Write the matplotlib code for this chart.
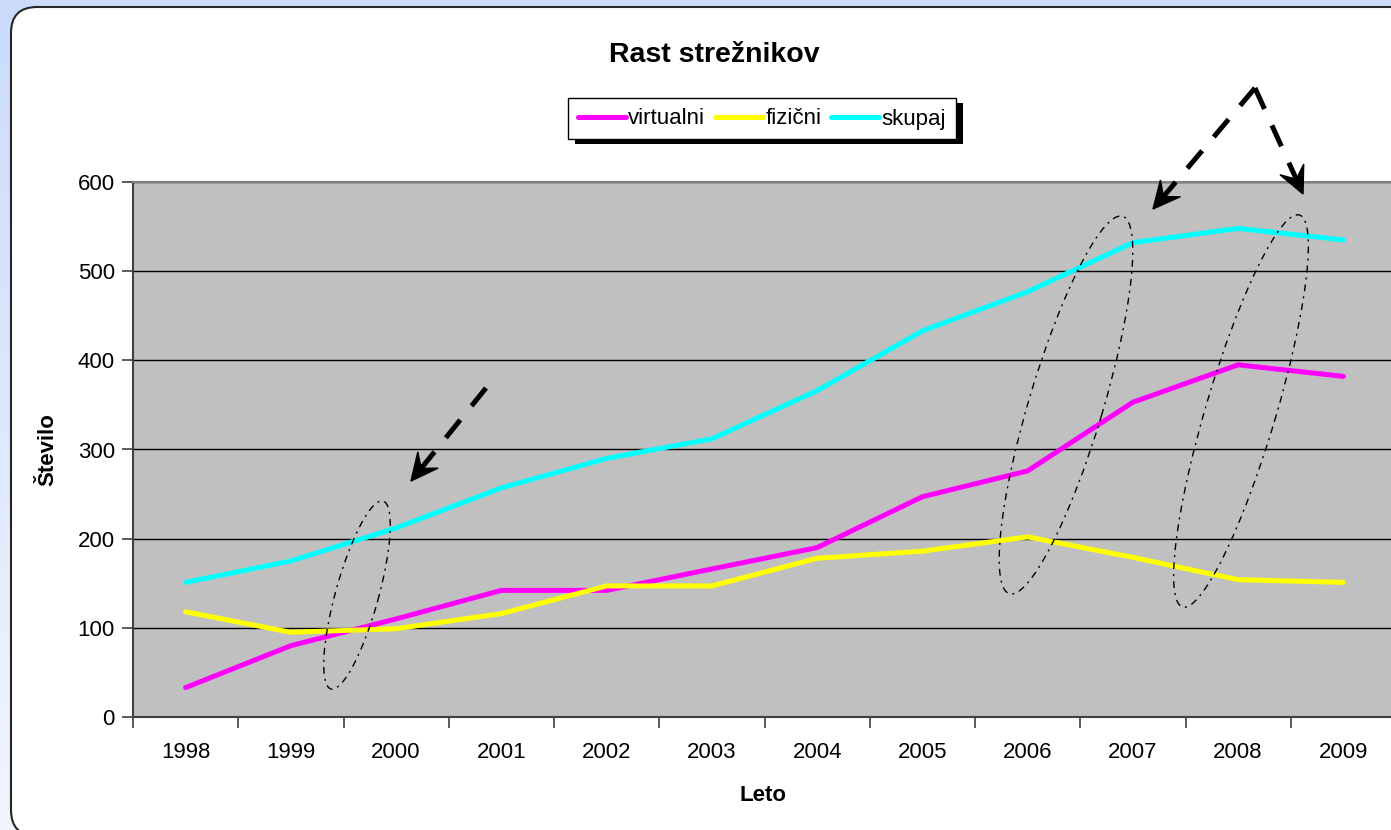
import numpy as np
import matplotlib
matplotlib.use('Agg')
import matplotlib.pyplot as plt
from matplotlib.colors import LinearSegmentedColormap
from matplotlib.patches import Ellipse, FancyBboxPatch, Polygon, Rectangle
from matplotlib.lines import Line2D
from matplotlib.transforms import IdentityTransform

plt.rcParams['font.family'] = ['Liberation Sans', 'DejaVu Sans']

# data
years = ['1998', '1999', '2000', '2001', '2002', '2003',
         '2004', '2005', '2006', '2007', '2008', '2009']
virtualni = [33, 80, 110, 142, 142, 166, 190, 247, 276, 353, 395, 382]
fizicni = [118, 95, 99, 116, 147, 147, 178, 186, 202, 179, 154, 151]
skupaj = [151, 175, 212, 257, 290, 312, 366, 433, 477, 532, 548, 535]

series_names = ['virtualni', 'fizični', 'skupaj']
series_colors = ['#ff00ff', '#ffff00', '#00ffff']

W, H = 1391, 830

# annotations in image pixels (y down)
ellipses = [  # center x, center y, major, minor, angle
    (357, 595, 195, 43, 74.5),
    (1066, 405, 394, 74, 73.3),
    (1241, 411, 409, 70, 73.4),
]
arrows = [  # start, tip
    ((486, 388), (411, 481)),
    ((1255, 88), (1153, 209)),
    ((1255, 88), (1303, 194)),
]

fig = plt.figure(figsize=(W / 100, H / 100), dpi=100)

# light blue gradient background
bgax = fig.add_axes([0, 0, 1, 1], zorder=-10)
grad = np.linspace(1, 0, 256).reshape(-1, 1)
bgcmap = LinearSegmentedColormap.from_list('bg', ['#f1f5fe', '#cbdbfa'])
bgax.imshow(grad, aspect='auto', cmap=bgcmap, extent=[0, 1, 0, 1])
bgax.axis('off')

# white rounded chart box
box = FancyBboxPatch((11, -6), 1420, 829, boxstyle='round,pad=0,rounding_size=26',
                     transform=IdentityTransform(), fc='white', ec='#262626',
                     lw=1.5, zorder=-5)
fig.add_artist(box)

ax = fig.add_axes([133 / W, 113 / H, 1263 / W, 535 / H])
ax.set_facecolor('#c0c0c0')
x = np.arange(len(years))
lines = []
for vals, name, col in zip([virtualni, fizicni, skupaj], series_names, series_colors):
    ln, = ax.plot(x, vals, color=col, lw=3.6, solid_capstyle='round',
                  solid_joinstyle='round', label=name)
    lines.append(ln)

ax.set_xlim(-0.5, len(years) - 0.5)
ax.set_ylim(0, 600)
ax.set_yticks(np.arange(0, 601, 100))
ax.set_xticks(np.arange(-0.5, len(years), 1))
ax.set_xticklabels([])
ax.set_xticks(x, minor=True)
ax.set_xticklabels(years, minor=True)
ax.tick_params(axis='x', which='major', length=8, color='#404040', width=1.2)
ax.tick_params(axis='x', which='minor', length=0, pad=18, labelsize=16)
ax.tick_params(axis='y', length=8, pad=5, labelsize=16, color='#404040', width=1.2)
ax.yaxis.grid(True, color='black', lw=1)
ax.set_axisbelow(True)
for s in ['left', 'bottom']:
    ax.spines[s].set_color('#404040')
    ax.spines[s].set_linewidth(1.5)
for s in ['top', 'right']:
    ax.spines[s].set_color('#808080')
    ax.spines[s].set_linewidth(1.5)

fig.text(714 / W, 1 - 62 / H, 'Rast strežnikov', ha='center', va='baseline',
         fontsize=20.5, weight='bold')
fig.text(48 / W, 1 - 450 / H, 'Število', rotation=90, ha='center', va='center',
         fontsize=16, weight='bold')
fig.text(763 / W, 1 - 795 / H, 'Leto', ha='center', va='center',
         fontsize=16, weight='bold')

leg = ax.legend(handles=lines, loc='center', bbox_to_anchor=(762 / W, 1 - 119 / H),
                bbox_transform=fig.transFigure, ncol=3, fontsize=16,
                handlelength=2.15, handletextpad=0.1, columnspacing=0.45,
                frameon=True, fancybox=False, edgecolor='black', framealpha=1,
                borderpad=0.45, borderaxespad=0)
leg.get_frame().set_linewidth(1.0)

# legend shadow
fig.canvas.draw()
bb = leg.get_frame().get_window_extent(fig.canvas.get_renderer())
fig.add_artist(Rectangle((bb.x0 + 7, bb.y0 - 5), bb.width, bb.height, fc='black',
                         ec='none', transform=IdentityTransform(), zorder=-1))

# dash-dot ellipses
for cx, cy, major, minor, ang in ellipses:
    e = Ellipse((cx, H - cy), major, minor, angle=ang, fill=False, ec='black', lw=1.0,
                linestyle=(0, (5, 3.6, 1.5, 3.6)), transform=IdentityTransform(), zorder=5)
    fig.add_artist(e)

# dashed arrows
for (x0, y0), (x1, y1) in arrows:
    p0 = np.array([x0, H - y0], dtype=float)
    tip = np.array([x1, H - y1], dtype=float)
    u = (tip - p0) / np.hypot(*(tip - p0))
    n = np.array([-u[1], u[0]])
    hl, hw = 27, 13
    base = tip - u * hl * 0.6
    fig.add_artist(Line2D([p0[0], base[0]], [p0[1], base[1]], color='black', lw=3.6,
                          linestyle=(0, (4.6, 3.6)), transform=IdentityTransform(), zorder=6))
    head = [tip, tip - u * hl + n * hw, tip - u * hl * 0.6, tip - u * hl - n * hw]
    fig.add_artist(Polygon(head, closed=True, fc='black', ec='black', lw=1,
                           transform=IdentityTransform(), zorder=6))

fig.savefig('out.png', dpi=100)
